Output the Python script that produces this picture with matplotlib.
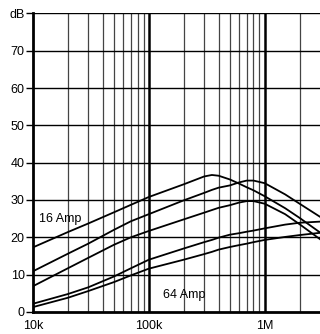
import matplotlib
matplotlib.use("Agg")
import matplotlib.pyplot as plt
import numpy as np

plt.rcParams['font.family'] = ['Liberation Sans', 'DejaVu Sans']

freq = [1e4, 2e4, 3e4, 5e4, 7e4, 1e5, 2e5, 3e5, 3.5e5, 4e5, 5e5, 6e5, 7e5, 8e5, 1e6, 1.5e6, 2e6, 3e6]
amp16 = [17.3, 21.4, 23.7, 26.7, 28.7, 30.8, 34.2, 36.3, 36.7, 36.5, 35.5, 34.4, 33.4, 32.6, 31.0, 27.8, 25.2, 21.3]
curve2 = [10.9, 15.6, 18.3, 22.0, 24.3, 26.2, 29.9, 31.9, 32.7, 33.3, 33.9, 34.7, 35.2, 35.2, 34.5, 31.5, 29.0, 25.5]
curve3 = [6.9, 11.7, 14.5, 18.0, 20.0, 21.7, 24.8, 26.6, 27.3, 27.9, 28.6, 29.3, 29.7, 29.7, 29.0, 26.2, 23.5, 19.5]
curve4 = [2.2, 4.8, 6.6, 9.5, 11.7, 14.0, 17.0, 18.7, 19.3, 19.9, 20.7, 21.1, 21.5, 21.8, 22.4, 23.4, 23.9, 24.2]
amp64 = [1.3, 3.8, 5.6, 8.0, 9.8, 11.6, 14.0, 15.5, 16.1, 16.7, 17.4, 17.9, 18.3, 18.7, 19.3, 20.1, 20.6, 21.2]

xtick_vals = [1e4, 1e5, 1e6]
xtick_labels = ['10k', '100k', '1M']
ytick_vals = [0, 10, 20, 30, 40, 50, 60, 70, 80]
ytick_labels = ['0', '10', '20', '30', '40', '50', '60', '70', 'dB']

fig = plt.figure(figsize=(3.2, 3.34), dpi=100)
ax = fig.add_axes([0.103, 0.066, 0.897, 0.894])
ax.set_xscale('log')
ax.set_xlim(1e4, 3e6)
ax.set_ylim(0, 80)

# grid
for d in [1e4, 1e5, 1e6]:
    for m in range(1, 10):
        f = d * m
        if f <= 1e4 or f >= 3e6:
            continue
        lw = 1.8 if m == 1 else 0.9
        ax.axvline(f, color='black' if m == 1 else '#444444', lw=lw, zorder=1)
for v in ytick_vals[1:]:
    ax.axhline(v, color='black', lw=1.0, zorder=1)

for ys in [amp16, curve2, curve3, curve4, amp64]:
    ax.plot(freq, ys, color='black', lw=1.3, zorder=3)

ax.text(1.72e4, 24.8, '16 Amp', fontsize=9, ha='center', va='center', zorder=4)
ax.text(2.0e5, 4.5, '64 Amp', fontsize=9, ha='center', va='center', zorder=4)

ax.set_xticks(xtick_vals)
ax.set_xticklabels(xtick_labels)
ax.xaxis.set_minor_locator(matplotlib.ticker.NullLocator())
ax.set_yticks(ytick_vals)
ax.set_yticklabels(ytick_labels)
ax.tick_params(axis='x', length=0, pad=6, labelsize=9)
ax.tick_params(axis='y', length=5, width=1.0, pad=1, labelsize=9)

for s in ['top', 'right']:
    ax.spines[s].set_visible(False)
ax.spines['left'].set_linewidth(2)
ax.spines['bottom'].set_linewidth(2)

fig.savefig('out.png', dpi=100)
